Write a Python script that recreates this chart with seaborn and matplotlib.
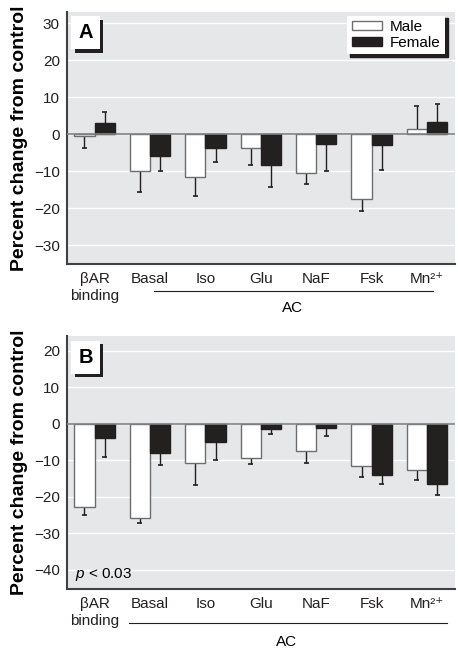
import pandas as pd
import seaborn as sns
import matplotlib.pyplot as plt
import matplotlib.patheffects as pe
from matplotlib.patches import Patch

# categories
categorias = ['βAR\nbinding', 'Basal', 'Iso', 'Glu', 'NaF', 'Fsk', 'Mn²⁺']

# panel A (mean, error)
a_male = [-0.5, -10.0, -11.6, -3.6, -10.5, -17.5, 1.5]
a_male_err = [3.1, 5.7, 5.1, 4.6, 3.0, 3.2, 6.0]
a_female = [3.0, -6.0, -3.7, -8.2, -2.5, -2.9, 3.3]
a_female_err = [3.0, 3.8, 3.7, 5.9, 7.4, 6.8, 4.8]

# panel B (mean, error)
b_male = [-22.7, -25.9, -10.8, -9.4, -7.4, -11.5, -12.6]
b_male_err = [2.3, 1.4, 6.1, 1.5, 3.4, 3.0, 2.9]
b_female = [-3.8, -8.0, -4.9, -1.5, -1.1, -14.1, -16.6]
b_female_err = [5.4, 3.4, 5.1, 1.3, 2.3, 2.5, 2.9]

sexos = ['Male', 'Female']
FONDO = '#e6e7e8'
NEGRO = '#231f20'
GRIS = '#6d6e71'

plt.rcParams['font.family'] = ['Liberation Sans', 'DejaVu Sans']
plt.rcParams['mathtext.fontset'] = 'custom'
plt.rcParams['mathtext.rm'] = 'Liberation Sans'
plt.rcParams['mathtext.it'] = 'Liberation Sans:italic'
plt.rcParams['mathtext.bf'] = 'Liberation Sans:bold'
plt.rcParams['axes.unicode_minus'] = True

fig = plt.figure(figsize=(4.58, 6.48), dpi=100)
ax_a = fig.add_axes([0.146, 0.5926, 0.847, 0.389])
ax_b = fig.add_axes([0.146, 0.091, 0.847, 0.390])


def panel(ax, male, male_err, female, female_err, ylim, yticks, letra,
          linea_x, linea_y, ac_x, ac_y):
    df = pd.DataFrame({
        'cat': categorias * 2,
        'sexo': ['Male'] * 7 + ['Female'] * 7,
        'valor': male + female,
        'err': male_err + female_err,
    })
    ax.set_facecolor(FONDO)
    ax.set_axisbelow(True)
    ax.yaxis.grid(True, color='white', linewidth=1.0)
    ax.xaxis.grid(False)

    sns.barplot(data=df, x='cat', y='valor', hue='sexo', hue_order=sexos,
                palette={'Male': 'white', 'Female': NEGRO}, width=0.73,
                errorbar=None, legend=False, ax=ax, zorder=3)

    # bordes y barras de error (hacia fuera del cero)
    for i, p in enumerate(ax.patches):
        fila = df.iloc[i]
        p.set_edgecolor(GRIS if fila['sexo'] == 'Male' else NEGRO)
        p.set_linewidth(1.0)
        x = p.get_x() + p.get_width() / 2
        signo = 1 if fila['valor'] >= 0 else -1
        fin = fila['valor'] + signo * fila['err']
        ax.vlines(x, fila['valor'], fin, color=NEGRO, linewidth=1.0, zorder=2)
        ax.hlines(fin, x - 0.045, x + 0.045, color=NEGRO, linewidth=1.2, zorder=2)

    ax.axhline(0, color='#808285', linewidth=1.2, zorder=4)

    ax.set_xlim(-0.5, 6.5)
    ax.set_ylim(*ylim)
    ax.set_yticks(yticks)
    ax.tick_params(axis='both', length=0, labelsize=11, colors='#231f20')
    ax.tick_params(axis='x', pad=6)
    ax.tick_params(axis='y', pad=5)
    for s in ['top', 'right']:
        ax.spines[s].set_visible(False)
    for s in ['left', 'bottom']:
        ax.spines[s].set_color('#414042')
        ax.spines[s].set_linewidth(1.5)
    ax.set_xlabel('')
    ax.set_ylabel('Percent change from control', fontsize=14,
                  fontweight='bold', labelpad=4)

    # linea AC
    tr = ax.get_xaxis_transform()
    ax.plot(linea_x, [linea_y, linea_y], color=NEGRO, linewidth=0.8,
            transform=tr, clip_on=False)
    ax.text(ac_x, ac_y, 'AC', transform=tr, ha='center', va='center',
            fontsize=11)

    # letra del panel con sombra
    t = ax.text(0.03, 0.955, letra, transform=ax.transAxes, ha='left',
                va='top', fontsize=14.5, fontweight='bold', zorder=6,
                bbox=dict(boxstyle='square,pad=0.35', facecolor='white',
                          edgecolor='none'))
    t.get_bbox_patch().set_path_effects([
        pe.SimplePatchShadow(offset=(2.4, -2.4), shadow_rgbFace=NEGRO, alpha=1),
        pe.Normal()])


panel(ax_a, a_male, a_male_err, a_female, a_female_err, (-35, 33),
      [30, 20, 10, 0, -10, -20, -30], 'A', [1.07, 6.1], -0.107, 3.58, -0.175)
panel(ax_b, b_male, b_male_err, b_female, b_female_err, (-45.3, 24),
      [20, 10, 0, -10, -20, -30, -40], 'B', [0.62, 6.36], -0.133, 3.47, -0.208)

ax_b.text(0.022, 0.025, '$\\it{p}$ < 0.03', transform=ax_b.transAxes,
          ha='left', va='bottom', fontsize=11)

handles = [Patch(facecolor='white', edgecolor=GRIS, label='Male'),
           Patch(facecolor=NEGRO, edgecolor=NEGRO, label='Female')]
leg = ax_a.legend(handles=handles, loc='upper right', fontsize=11,
                  frameon=True, fancybox=False, handlelength=2.0,
                  handleheight=0.55, handletextpad=0.5, labelspacing=0.1,
                  borderpad=0.3, borderaxespad=0.0,
                  bbox_to_anchor=(0.975, 0.985),
                  shadow={'color': NEGRO, 'alpha': 1})
leg.get_frame().set_facecolor('white')
leg.get_frame().set_edgecolor('none')
leg.get_frame().set_alpha(1)
leg.set_zorder(6)

plt.savefig('out.png', dpi=100)
plt.close()
